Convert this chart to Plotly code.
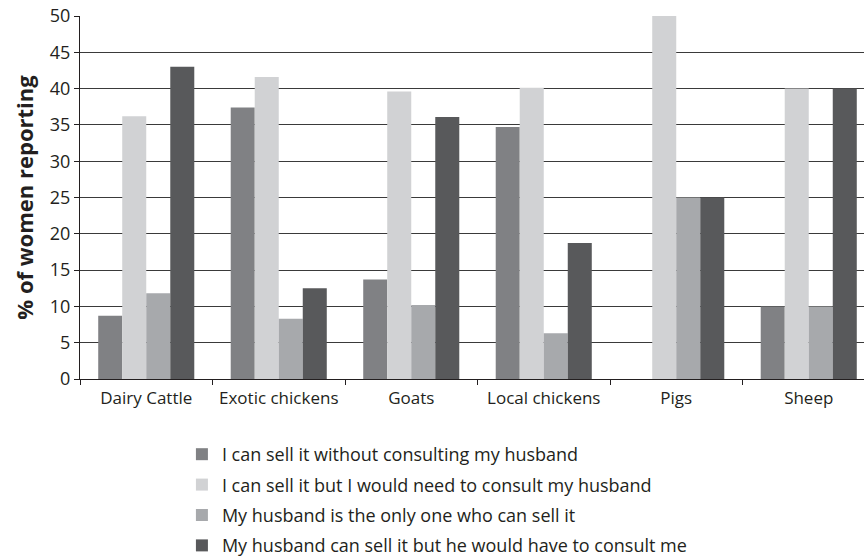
import plotly.graph_objects as go

# Livestock types and the share of women giving each answer (%)
categories = ["Dairy Cattle", "Exotic chickens", "Goats", "Local chickens", "Pigs", "Sheep"]

series_names = [
    "I can sell it without consulting my husband",
    "I can sell it but I would need to consult my husband",
    "My husband is the only one who can sell it",
    "My husband can sell it but he would have to consult me",
]

sell_alone = [8.7, 37.4, 13.7, 34.7, 0, 10]
sell_consult_husband = [36.2, 41.6, 39.6, 40.1, 50, 40]
husband_only = [11.8, 8.3, 10.2, 6.3, 25, 10]
husband_consults_me = [43.0, 12.5, 36.1, 18.75, 25, 40]

series_values = [sell_alone, sell_consult_husband, husband_only, husband_consults_me]
series_colors = ["#808184", "#d1d2d4", "#a7a9ac", "#58595b"]

FONT = "Open Sans"
TEXT = "#231f20"

fig = go.Figure()
for i, (name, vals, col) in enumerate(zip(series_names, series_values, series_colors)):
    fig.add_trace(go.Bar(
        x=categories,
        y=vals,
        name=name,
        marker=dict(color=col, line=dict(width=0)),
        legendgroup=f"g{i}",
    ))

fig.update_layout(
    width=864,
    height=556,
    margin=dict(l=80, r=0, t=16, b=177, autoexpand=False),
    barmode="group",
    bargap=0.275,
    bargroupgap=0,
    plot_bgcolor="white",
    paper_bgcolor="white",
    font=dict(family=FONT, color=TEXT, size=18),
    showlegend=True,
    legend=dict(
        x=0.13,
        y=-0.157,
        xanchor="left",
        yanchor="top",
        tracegroupgap=4,
        font=dict(size=18, family=FONT, color=TEXT),
        bgcolor="rgba(0,0,0,0)",
    ),
)

fig.update_xaxes(
    range=[-0.5, 5.417],
    showline=True,
    linecolor=TEXT,
    linewidth=1,
    ticks="outside",
    tickson="boundaries",
    ticklen=5,
    tickcolor=TEXT,
    tickangle=0,
    ticklabelstandoff=4,
    showgrid=False,
    tickfont=dict(size=17, family=FONT),
)

fig.update_yaxes(
    range=[0, 50],
    dtick=5,
    showline=True,
    linecolor=TEXT,
    linewidth=1,
    ticks="outside",
    ticklen=5,
    tickcolor=TEXT,
    showgrid=True,
    gridcolor="#3a3a3a",
    gridwidth=1,
    zeroline=False,
    tickfont=dict(size=18, family=FONT),
    title=dict(text="<b>% of women reporting</b>", font=dict(size=22, family=FONT), standoff=10),
)

fig.write_html("out.html")
